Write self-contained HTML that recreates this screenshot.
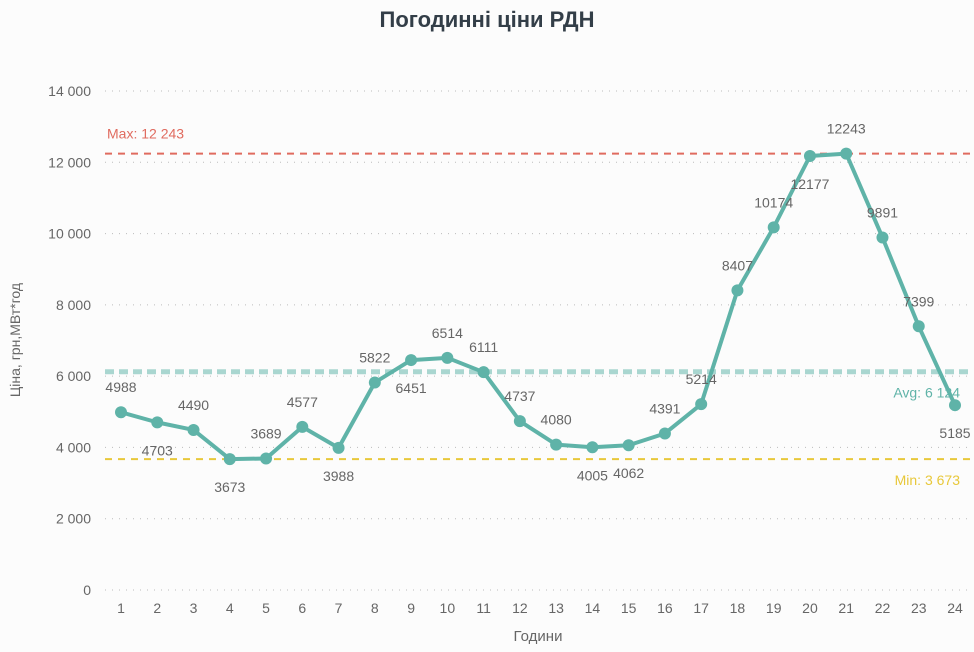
<!DOCTYPE html>
<html><head><meta charset="utf-8"><style>
body{margin:0;background:#fcfcfc;}
svg{display:block;font-family:"Liberation Sans",sans-serif;}
</style></head><body>
<svg id="c" width="974" height="652">
<text x="487" y="27" text-anchor="middle" font-size="22" font-weight="bold" fill="#333e48">Погодинні ціни РДН</text>
<text transform="translate(20,340) rotate(-90)" text-anchor="middle" font-size="14" fill="#666">Ціна, грн,МВт*год</text>
<text x="538" y="641" text-anchor="middle" font-size="15" fill="#666">Години</text>
<g id="g"></g>
</svg>
<script>
const hours=[1,2,3,4,5,6,7,8,9,10,11,12,13,14,15,16,17,18,19,20,21,22,23,24];
const prices=[4988,4703,4490,3673,3689,4577,3988,5822,6451,6514,6111,4737,4080,4005,4062,4391,5214,8407,10174,12177,12243,9891,7399,5185];
const belowLabels=[2,4,7,9,14,15,20,24];
const yTicks=[0,2000,4000,6000,8000,10000,12000,14000];
const maxV=12243, avgV=6124, minV=3673;
const X=h=>121+(h-1)*(955-121)/23;
const Y=v=>590-v*(590-91)/14000;
const NS="http://www.w3.org/2000/svg";
const g=document.getElementById('g');
function mk(t,a){const e=document.createElementNS(NS,t);for(const k in a)e.setAttribute(k,a[k]);g.appendChild(e);return e;}
const fmt=v=>String(v).replace(/\B(?=(\d{3})+$)/g,' ');
yTicks.forEach(v=>{
 const l=mk('line',{x1:105,x2:970,y1:Y(v),y2:Y(v),stroke:'#bbb','stroke-dasharray':'1 6'});
 
 
 const t=mk('text',{x:91,y:Y(v)+5,'text-anchor':'end','font-size':14,fill:'#666'});
 t.textContent=fmt(v);
 
 
});
hours.forEach(h=>{
 const t=mk('text',{x:X(h),y:613,'text-anchor':'middle','font-size':14,fill:'#666'});
 t.textContent=h;
 
 
});
const refs=[[maxV,'#e06b5f','Max: ',2,'7 6',107,Y(maxV)-15,'start'],[avgV,'#a9d6d0','Avg: ',5,'9 5',960,Y(avgV)+26,'end'],[minV,'#e8c83a','Min: ',2,'7 6',960,Y(minV)+26,'end']];
refs.forEach(r=>{
 const l=mk('line',{x1:105,x2:970,y1:Y(r[0]),y2:Y(r[0]),stroke:r[1],'stroke-width':r[3],'stroke-dasharray':r[4]});
 
 
 const t=mk('text',{x:r[5],y:r[6],'text-anchor':r[7],'font-size':14,fill:r[1]==='#a9d6d0'?'#5fb3a8':r[1]});
 t.textContent=r[2]+fmt(r[0]);
 
 
});
const p=mk('polyline',{points:hours.map((h,i)=>X(h)+','+Y(prices[i])).join(' '),fill:'none',stroke:'#5fb3a8','stroke-width':4,'stroke-linejoin':'round'});


hours.forEach((h,i)=>{
 const c=mk('circle',{cx:X(h),cy:Y(prices[i]),r:6,fill:'#5fb3a8'});
 
 
 const below=belowLabels.includes(h);
 const t=mk('text',{x:X(h),y:Y(prices[i])+(below?33:-20),'text-anchor':'middle','font-size':14,fill:'#666'});
 t.textContent=prices[i];
 
 
});
</script>
</body></html>
